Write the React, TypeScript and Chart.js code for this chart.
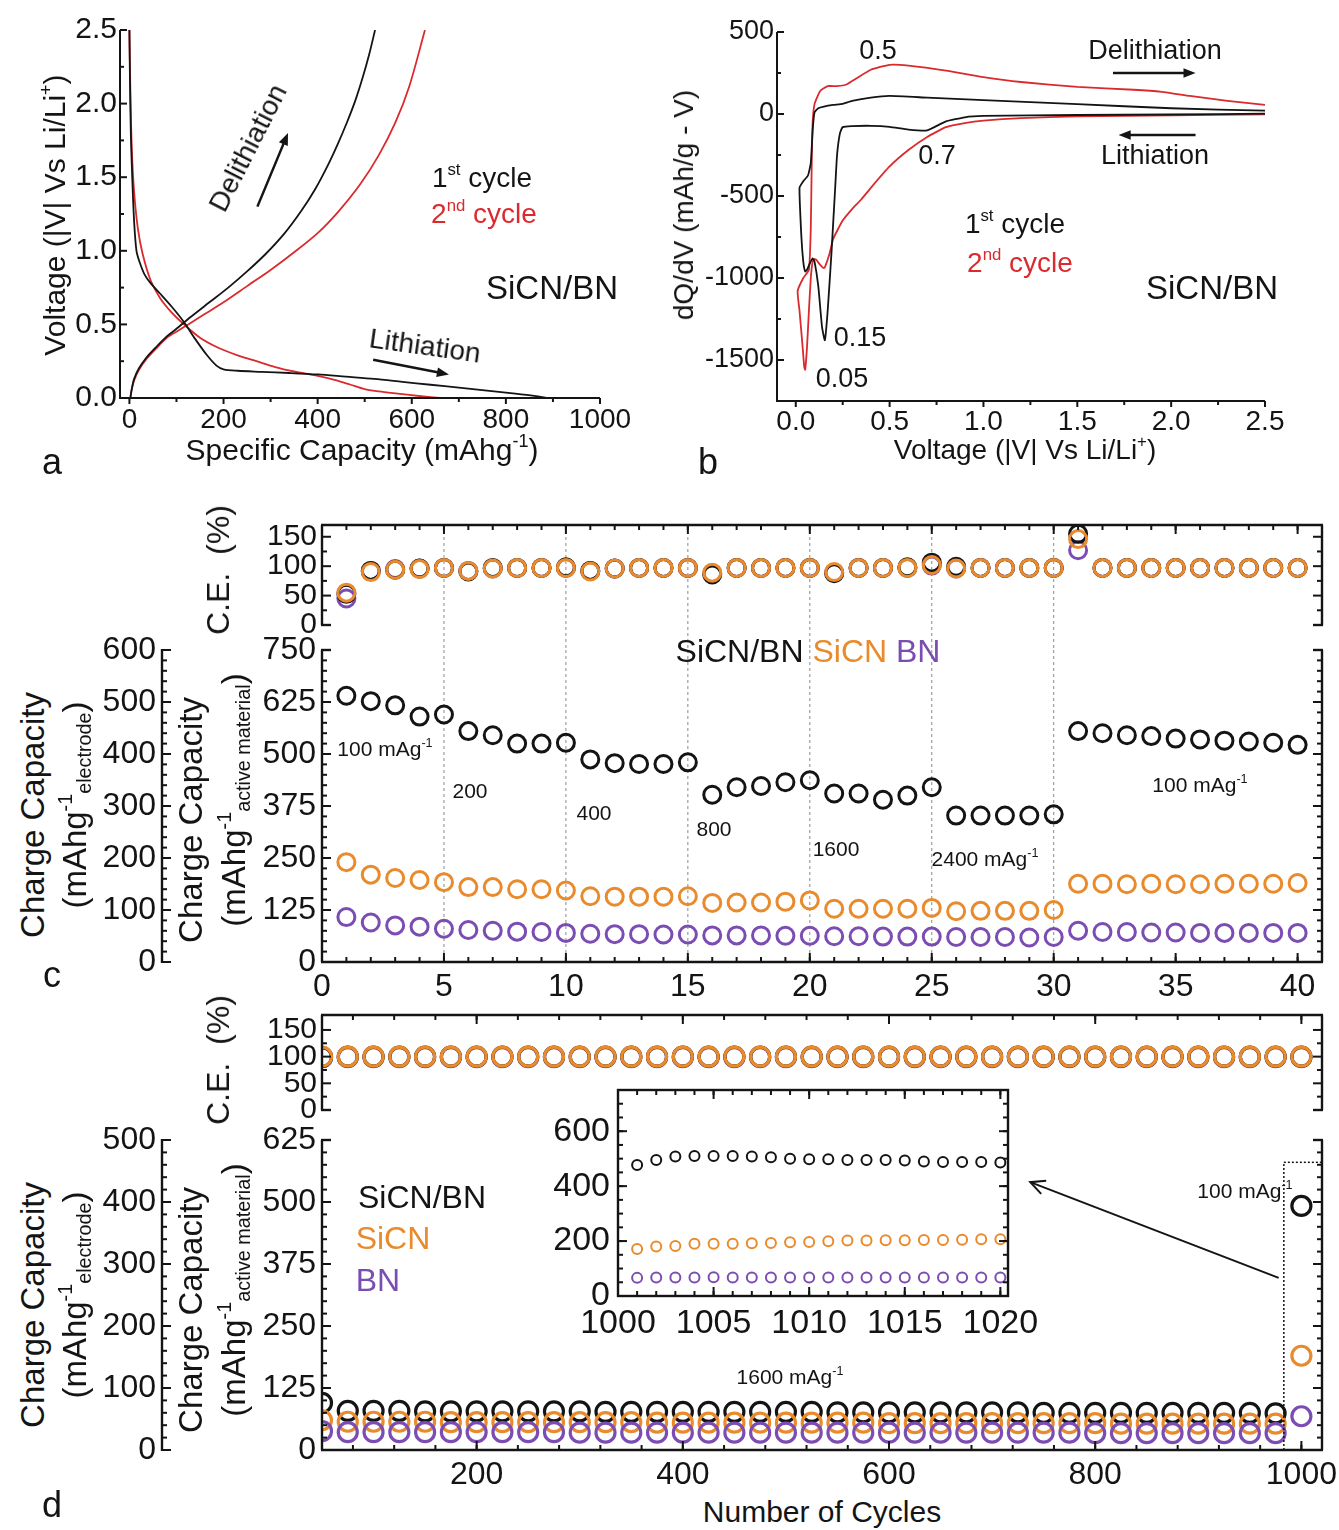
import React, { useEffect, useRef } from 'react';
import { Chart, registerables } from 'chart.js';

Chart.register(...registerables);

const FONT = '"Liberation Sans", Arial, Helvetica, sans-serif';
const INK = '#141414';
const RED = '#DA2A2E';
const ORANGE = '#E98B2C';
const PURPLE = '#7B4DB3';

// ---------------- Panel a: voltage profiles ----------------
const aLith1Cap = [0, 1, 3, 6, 10, 15, 22, 32, 45, 65, 90, 115, 140, 165, 185, 200, 230, 280, 340, 400, 460, 520, 580, 640, 700, 760, 820, 860, 890];
const aLith1V = [2.5, 2.2, 1.8, 1.5, 1.2, 1.0, 0.92, 0.84, 0.78, 0.71, 0.62, 0.52, 0.4, 0.29, 0.22, 0.195, 0.185, 0.178, 0.17, 0.16, 0.145, 0.13, 0.11, 0.09, 0.07, 0.05, 0.03, 0.015, 0.0];
const aDel1Cap = [2, 5, 10, 20, 35, 55, 80, 100, 130, 170, 210, 250, 290, 330, 365, 395, 420, 442, 462, 480, 496, 510, 522];
const aDel1V = [0.0, 0.06, 0.13, 0.2, 0.27, 0.34, 0.42, 0.47, 0.55, 0.65, 0.75, 0.86, 0.98, 1.12, 1.27, 1.42, 1.57, 1.72, 1.87, 2.02, 2.18, 2.34, 2.5];
const aLith2Cap = [0, 2, 5, 10, 18, 28, 45, 65, 90, 116, 150, 190, 230, 270, 310, 350, 400, 440, 470, 500, 530, 570, 620, 660];
const aLith2V = [2.5, 2.1, 1.7, 1.4, 1.15, 0.98, 0.8, 0.68, 0.58, 0.5, 0.41, 0.34, 0.29, 0.25, 0.21, 0.18, 0.15, 0.12, 0.09, 0.06, 0.045, 0.03, 0.012, 0.0];
const aDel2Cap = [2, 5, 10, 20, 35, 55, 80, 105, 125, 160, 200, 250, 300, 350, 400, 445, 490, 530, 565, 595, 628];
const aDel2V = [0.0, 0.06, 0.12, 0.19, 0.26, 0.33, 0.41, 0.46, 0.5, 0.57, 0.65, 0.76, 0.87, 0.99, 1.12, 1.27, 1.45, 1.65, 1.87, 2.12, 2.5];
const aXTicks = [0, 200, 400, 600, 800, 1000];
const aYTicks = [0, 0.5, 1, 1.5, 2, 2.5];

// ---------------- Panel b: dQ/dV ----------------
const bV1 = [2.5, 2.0, 1.5, 1.0, 0.9, 0.8, 0.7, 0.6, 0.5, 0.4, 0.3, 0.25, 0.235, 0.22, 0.21, 0.19, 0.17, 0.155, 0.14, 0.12, 0.1, 0.09, 0.075, 0.06, 0.05, 0.04, 0.03, 0.02, 0.04, 0.065, 0.08, 0.09, 0.1, 0.12, 0.15, 0.2, 0.25, 0.3, 0.4, 0.5, 0.7, 1.0, 1.5, 2.0, 2.5];
const bQ1 = [2, -3, -6, -12, -20, -45, -100, -95, -78, -72, -74, -80, -120, -250, -450, -850, -1200, -1380, -1300, -1050, -900, -880, -910, -950, -960, -900, -750, -450, -410, -375, -300, -100, 10, 35, 45, 55, 62, 80, 100, 110, 100, 85, 60, 35, 20];
const bV2 = [2.5, 2.0, 1.5, 1.2, 1.0, 0.9, 0.8, 0.7, 0.6, 0.5, 0.4, 0.35, 0.3, 0.25, 0.2, 0.18, 0.16, 0.15, 0.13, 0.11, 0.1, 0.09, 0.08, 0.07, 0.06, 0.05, 0.045, 0.035, 0.02, 0.01, 0.04, 0.07, 0.08, 0.085, 0.09, 0.1, 0.13, 0.17, 0.22, 0.27, 0.32, 0.4, 0.5, 0.6, 0.8, 1.0, 1.2, 1.5, 1.8, 1.95, 2.1, 2.3, 2.5];
const bQ2 = [-2, -8, -15, -25, -40, -55, -80, -140, -220, -320, -450, -520, -580, -650, -760, -850, -920, -940, -920, -890, -885, -900, -1000, -1200, -1420, -1560, -1540, -1400, -1200, -1080, -1000, -950, -700, -300, -50, 60, 140, 170, 170, 180, 215, 270, 300, 295, 265, 225, 195, 165, 148, 135, 110, 80, 55];
const bXTicks = [0, 0.5, 1, 1.5, 2, 2.5];
const bYTicks = [-1500, -1000, -500, 0, 500];

// ---------------- Panel c: rate capability ----------------
const cCycles = [1, 2, 3, 4, 5, 6, 7, 8, 9, 10, 11, 12, 13, 14, 15, 16, 17, 18, 19, 20, 21, 22, 23, 24, 25, 26, 27, 28, 29, 30, 31, 32, 33, 34, 35, 36, 37, 38, 39, 40];
const cCapSiCNBN = [640, 627, 617, 590, 595, 555, 545, 525, 525, 527, 487, 478, 476, 476, 480, 402, 420, 423, 432, 437, 405, 405, 390, 400, 420, 352, 352, 352, 352, 355, 555, 550, 545, 543, 537, 535, 532, 530, 527, 522];
const cCapSiCN = [240, 210, 202, 197, 192, 180, 180, 175, 175, 172, 158, 157, 157, 157, 158, 142, 143, 143, 145, 148, 128, 128, 128, 128, 130, 122, 123, 123, 123, 125, 188, 188, 187, 188, 187, 187, 188, 188, 188, 190];
const cCapBN = [108, 95, 88, 85, 80, 77, 75, 73, 72, 70, 68, 67, 67, 66, 66, 64, 64, 64, 63, 63, 62, 62, 61, 61, 61, 60, 60, 60, 59, 60, 75, 72, 72, 71, 71, 70, 70, 70, 70, 70];
const cCESiCNBN = [53, 92, 94, 96, 97, 91, 97, 97, 97, 98, 92, 96, 97, 97, 97, 86, 97, 97, 97, 97, 88, 97, 97, 98, 106, 99, 97, 97, 97, 97, 155, 97, 97, 97, 97, 97, 97, 97, 97, 97];
const cCESiCN = [55, 90, 94, 95, 97, 92, 96, 97, 97, 97, 91, 96, 97, 97, 97, 89, 97, 97, 97, 97, 90, 97, 97, 97, 102, 96, 97, 97, 97, 97, 146, 97, 97, 97, 97, 97, 97, 97, 97, 97];
const cCEBN = [45, 92, 95, 96, 97, 92, 96, 97, 97, 97, 92, 96, 97, 97, 97, 88, 97, 97, 97, 97, 89, 97, 97, 97, 101, 96, 97, 97, 97, 97, 127, 97, 97, 97, 97, 97, 97, 97, 97, 97];
const cRateLines = [5, 10, 15, 20, 25, 30];
const cXTicks = [0, 5, 10, 15, 20, 25, 30, 35, 40];
const cCETicks = [0, 50, 100, 150];
const cCapTicks = [0, 125, 250, 375, 500, 625, 750];
const cElecTicks = [0, 100, 200, 300, 400, 500, 600];

// ---------------- Panel d: long cycling ----------------
const dCycles = [50, 75, 100, 125, 150, 175, 200, 225, 250, 275, 300, 325, 350, 375, 400, 425, 450, 475, 500, 525, 550, 575, 600, 625, 650, 675, 700, 725, 750, 775, 800, 825, 850, 875, 900, 925, 950, 975, 1000];
const dCapSiCNBN = [95, 79, 79, 79, 78, 78, 78, 78, 78, 78, 78, 77, 77, 77, 77, 77, 77, 77, 77, 77, 76, 76, 76, 76, 76, 76, 76, 76, 75, 75, 75, 75, 75, 75, 75, 75, 75, 74, 492];
const dCapSiCN = [60, 57, 57, 57, 57, 56, 56, 56, 56, 56, 56, 56, 56, 55, 55, 55, 55, 55, 55, 55, 55, 55, 54, 54, 54, 54, 54, 54, 54, 54, 54, 53, 53, 53, 53, 53, 53, 53, 190];
const dCapBN = [38, 36, 36, 36, 36, 36, 36, 36, 36, 36, 35, 35, 35, 35, 35, 35, 35, 35, 35, 35, 35, 35, 35, 35, 35, 35, 35, 35, 35, 35, 34, 34, 34, 34, 34, 34, 34, 34, 68];
const dCESiCNBN = [99, 100, 100, 100, 100, 100, 100, 100, 100, 100, 100, 100, 100, 100, 100, 100, 100, 100, 100, 100, 100, 100, 100, 100, 100, 100, 100, 100, 100, 100, 100, 100, 100, 100, 100, 100, 100, 100, 100];
const dCESiCN = [100, 100, 100, 100, 100, 100, 100, 100, 100, 100, 100, 100, 100, 100, 100, 100, 100, 100, 100, 100, 100, 100, 100, 100, 100, 100, 100, 100, 100, 100, 100, 100, 100, 100, 100, 100, 100, 100, 100];
const dCEBN = [99, 99, 99, 99, 99, 99, 99, 99, 99, 99, 99, 99, 99, 99, 99, 99, 99, 99, 99, 99, 99, 99, 99, 99, 99, 99, 99, 99, 99, 99, 99, 99, 99, 99, 99, 99, 99, 99, 99];
const dXTicks = [200, 400, 600, 800, 1000];
const dCETicks = [0, 50, 100, 150];
const dCapTicks = [0, 125, 250, 375, 500, 625];
const dElecTicks = [0, 100, 200, 300, 400, 500];

// ---------------- Inset ----------------
const inCycles = [1001, 1002, 1003, 1004, 1005, 1006, 1007, 1008, 1009, 1010, 1011, 1012, 1013, 1014, 1015, 1016, 1017, 1018, 1019, 1020];
const inSiCNBN = [477, 495, 508, 510, 510, 510, 508, 505, 500, 498, 498, 495, 495, 495, 493, 490, 488, 488, 488, 486];
const inSiCN = [171, 180, 182, 190, 190, 190, 192, 193, 196, 197, 199, 202, 202, 203, 203, 204, 204, 205, 207, 207];
const inBN = [66, 67, 67, 67, 68, 67, 67, 67, 67, 67, 67, 67, 67, 67, 67, 67, 67, 67, 67, 67];
const inXTicks = [1000, 1005, 1010, 1015, 1020];
const inYTicks = [0, 200, 400, 600];

// ---------------- helpers ----------------
type Pad = { l: number; t: number; r: number; b: number };
type Area = { left: number; top: number; right: number; bottom: number };

const seq = (a: number, b: number, st: number) => {
  const r: number[] = [];
  for (let v = a; v <= b + 1e-9; v += st) r.push(+v.toFixed(6));
  return r;
};
const zip = (xs: number[], ys: number[]) => xs.map((x, i) => ({ x, y: ys[i] }));

function curve(xs: number[], ys: number[], color: string, tension: number) {
  return { data: zip(xs, ys), showLine: true, borderColor: color, borderWidth: 1.8, pointRadius: 0, tension, fill: false };
}
function rings(xs: number[], ys: number[], color: string, r: number, bw: number) {
  return {
    data: zip(xs, ys), showLine: false, pointStyle: 'circle', pointRadius: r, pointBorderWidth: bw,
    pointBorderColor: color, pointBackgroundColor: 'rgba(0,0,0,0)', borderColor: color, backgroundColor: 'rgba(0,0,0,0)',
    yAxisID: 'y',
  };
}

function axis(o: { pos: string; min: number; max: number; labels?: number[]; fmt?: (v: number) => string; size: number; font?: number; pad?: number; weight?: number }) {
  const horiz = o.pos === 'bottom' || o.pos === 'top';
  const has = !!(o.labels && o.labels.length);
  return {
    type: 'linear', position: o.pos, min: o.min, max: o.max, bounds: 'data', weight: o.weight ?? 0,
    grid: { display: false, drawTicks: false },
    border: { display: false },
    ticks: {
      display: has, autoSkip: false, maxRotation: 0, minRotation: 0, padding: o.pad ?? 6, color: INK,
      font: { family: FONT, size: o.font ?? 28 },
      callback: (v: any) => (o.fmt ? o.fmt(Number(v)) : String(v)),
    },
    afterBuildTicks: (s: any) => { s.ticks = (has ? o.labels! : [o.min, o.max]).map((v) => ({ value: v })); },
    afterFit: (s: any) => {
      if (horiz) s.height = o.size; else s.width = o.size;
      s.paddingLeft = 0; s.paddingRight = 0; s.paddingTop = 0; s.paddingBottom = 0;
    },
  };
}

function baseOptions(pad: Pad, scales: any) {
  return {
    responsive: false, maintainAspectRatio: false, animation: false, devicePixelRatio: 1, events: [],
    layout: { padding: { left: 0, top: pad.t, right: pad.r, bottom: 0 } },
    plugins: { legend: { display: false }, tooltip: { enabled: false }, title: { display: false } },
    scales,
  };
}

function L(ctx: any, x1: number, y1: number, x2: number, y2: number, lw = 2, dash: number[] = [], color = INK) {
  ctx.save(); ctx.strokeStyle = color; ctx.lineWidth = lw; ctx.setLineDash(dash); ctx.lineCap = 'butt';
  ctx.beginPath(); ctx.moveTo(x1, y1); ctx.lineTo(x2, y2); ctx.stroke(); ctx.restore();
}
function tk(c: any, id: string, vals: number[], len: number, side: string, inward: boolean, at?: number, lw = 2) {
  const s = c.scales[id]; const a = c.chartArea; const ctx = c.ctx;
  for (const v of vals) {
    if (v < s.min - 1e-9 || v > s.max + 1e-9) continue;
    const p = s.getPixelForValue(v);
    if (side === 'bottom') L(ctx, p, a.bottom, p, a.bottom + (inward ? -len : len), lw);
    else if (side === 'top') L(ctx, p, a.top, p, a.top + (inward ? len : -len), lw);
    else if (side === 'left') { const x0 = at ?? a.left; L(ctx, x0, p, x0 + (inward ? len : -len), p, lw); }
    else { const x0 = at ?? a.right; L(ctx, x0, p, x0 + (inward ? -len : len), p, lw); }
  }
}
function arrow(ctx: any, x1: number, y1: number, x2: number, y2: number, lw = 2, head = 12, open = false) {
  const ang = Math.atan2(y2 - y1, x2 - x1);
  const bx = x2 - (open ? 0 : head * 0.8) * Math.cos(ang), by = y2 - (open ? 0 : head * 0.8) * Math.sin(ang);
  L(ctx, x1, y1, bx, by, lw);
  ctx.save(); ctx.fillStyle = INK; ctx.strokeStyle = INK; ctx.lineWidth = lw; ctx.beginPath();
  if (open) {
    ctx.moveTo(x2 - head * Math.cos(ang - 0.45), y2 - head * Math.sin(ang - 0.45));
    ctx.lineTo(x2, y2);
    ctx.lineTo(x2 - head * Math.cos(ang + 0.45), y2 - head * Math.sin(ang + 0.45));
    ctx.stroke();
  } else {
    ctx.moveTo(x2, y2);
    ctx.lineTo(x2 - head * Math.cos(ang - 0.38), y2 - head * Math.sin(ang - 0.38));
    ctx.lineTo(x2 - head * Math.cos(ang + 0.38), y2 - head * Math.sin(ang + 0.38));
    ctx.closePath(); ctx.fill();
  }
  ctx.restore();
}
const px = (c: any, id: string, v: number) => c.scales[id].getPixelForValue(v);

// ---------------- chart configs ----------------
function cfgA(pad: Pad) {
  return {
    type: 'scatter',
    data: { datasets: [curve(aDel1Cap, aDel1V, INK, 0.3), curve(aLith1Cap, aLith1V, INK, 0.3), curve(aDel2Cap, aDel2V, RED, 0.3), curve(aLith2Cap, aLith2V, RED, 0.3)] },
    options: baseOptions(pad, {
      x: axis({ pos: 'bottom', min: -20, max: 1000, labels: aXTicks, size: pad.b, font: 28, pad: 5 }),
      y: axis({ pos: 'left', min: 0, max: 2.5, labels: aYTicks, fmt: (v) => v.toFixed(1), size: pad.l, font: 30, pad: 3 }),
    }),
    plugins: [{
      id: 'decorA',
      afterDatasetsDraw(c: any) {
        const a = c.chartArea, ctx = c.ctx;
        L(ctx, a.left, a.top, a.left, a.bottom + 1, 2);
        L(ctx, a.left - 1, a.bottom, a.right, a.bottom, 2);
        tk(c, 'y', aYTicks, 7, 'left', true); tk(c, 'y', seq(0.25, 2.25, 0.5), 4, 'left', true);
        tk(c, 'x', aXTicks, 6, 'bottom', false); tk(c, 'x', seq(100, 900, 200), 4, 'bottom', false);
        arrow(ctx, px(c, 'x', 272), px(c, 'y', 1.3), px(c, 'x', 337), px(c, 'y', 1.8), 2.5, 13);
        arrow(ctx, px(c, 'x', 518), px(c, 'y', 0.26), px(c, 'x', 679), px(c, 'y', 0.16), 2.5, 13);
      },
    }],
  };
}

function cfgB(pad: Pad) {
  return {
    type: 'scatter',
    data: { datasets: [curve(bV1, bQ1, INK, 0.15), curve(bV2, bQ2, RED, 0.15)] },
    options: baseOptions(pad, {
      x: axis({ pos: 'bottom', min: -0.1, max: 2.5, labels: bXTicks, fmt: (v) => v.toFixed(1), size: pad.b, font: 28, pad: 4 }),
      y: axis({ pos: 'left', min: -1750, max: 500, labels: bYTicks, size: pad.l, font: 27, pad: 3 }),
    }),
    plugins: [{
      id: 'decorB',
      afterDatasetsDraw(c: any) {
        const a = c.chartArea, ctx = c.ctx;
        L(ctx, a.left, a.top, a.left, a.bottom + 1, 2);
        L(ctx, a.left - 1, a.bottom, a.right, a.bottom, 2);
        tk(c, 'y', bYTicks, 7, 'left', true); tk(c, 'y', [-1250, -750, -250, 250], 4, 'left', true);
        tk(c, 'x', bXTicks, 6, 'bottom', false); tk(c, 'x', seq(0.25, 2.25, 0.5), 4, 'bottom', false);
        arrow(ctx, px(c, 'x', 1.69), px(c, 'y', 250), px(c, 'x', 2.13), px(c, 'y', 250), 2.5, 13);
        arrow(ctx, px(c, 'x', 2.13), px(c, 'y', -128), px(c, 'x', 1.72), px(c, 'y', -128), 2.5, 13);
      },
    }],
  };
}

function ceFrame(c: any, yTicks: number[], yMinor: number[], xTicks: number[], xMinor: number[]) {
  const a = c.chartArea, ctx = c.ctx;
  L(ctx, a.left - 1, a.top, a.right + 1, a.top, 2.4);
  L(ctx, a.left, a.top, a.left, a.bottom, 2.4);
  L(ctx, a.right, a.top, a.right, a.bottom, 2.4);
  L(ctx, a.left - 1, a.bottom, a.left + 9, a.bottom, 2.4);
  L(ctx, a.right - 9, a.bottom, a.right + 1, a.bottom, 2.4);
  tk(c, 'y', yTicks, 9, 'left', true); tk(c, 'y', yMinor, 5, 'left', true);
  tk(c, 'y', yTicks, 9, 'right', true); tk(c, 'y', yMinor, 5, 'right', true);
  tk(c, 'x', xTicks, 9, 'top', true); tk(c, 'x', xMinor, 5, 'top', true);
}
function capFrame(c: any, yTicks: number[], yMinor: number[], xTicks: number[], xMinor: number[], eTicks: number[], eMinor: number[]) {
  const a = c.chartArea, ctx = c.ctx;
  L(ctx, a.left - 1, a.bottom, a.right + 1, a.bottom, 2.4);
  L(ctx, a.left, a.top, a.left, a.bottom, 2.4);
  L(ctx, a.right, a.top, a.right, a.bottom, 2.4);
  L(ctx, a.left - 1, a.top, a.left + 9, a.top, 2.4);
  L(ctx, a.right - 9, a.top, a.right + 1, a.top, 2.4);
  tk(c, 'y', yTicks, 9, 'left', true); tk(c, 'y', yMinor, 5, 'left', true);
  tk(c, 'y', yTicks, 9, 'right', true); tk(c, 'y', yMinor, 5, 'right', true);
  tk(c, 'x', xTicks, 9, 'bottom', true); tk(c, 'x', xMinor, 5, 'bottom', true);
  const e = c.scales.y2; const ex = e.right;
  L(ctx, ex, a.top - 1, ex, a.bottom + 1, 2.4);
  tk(c, 'y2', eTicks, 9, 'left', true, ex); tk(c, 'y2', eMinor, 5, 'left', true, ex);
}

function cfgCCE(pad: Pad) {
  return {
    type: 'scatter',
    data: { datasets: [rings(cCycles, cCESiCN, ORANGE, 8.5, 3), rings(cCycles, cCESiCNBN, INK, 8.5, 3), rings(cCycles, cCEBN, PURPLE, 8.5, 3)] },
    options: baseOptions(pad, {
      x: axis({ pos: 'bottom', min: 0, max: 41, size: pad.b }),
      y: axis({ pos: 'left', min: 0, max: 170, labels: cCETicks, size: pad.l, font: 30, pad: 5 }),
    }),
    plugins: [{
      id: 'decorCCE',
      beforeDatasetsDraw(c: any) {
        const a = c.chartArea;
        for (const v of cRateLines) { const p = px(c, 'x', v); L(c.ctx, p, a.top, p, c.height, 1, [3, 3], '#8a8a8a'); }
      },
      afterDatasetsDraw(c: any) { ceFrame(c, cCETicks, [25, 75, 125], cXTicks, seq(1, 40, 1)); },
    }],
  };
}

function cfgCCap(pad: Pad) {
  return {
    type: 'scatter',
    data: { datasets: [rings(cCycles, cCapBN, PURPLE, 8.5, 3), rings(cCycles, cCapSiCN, ORANGE, 8.5, 3), rings(cCycles, cCapSiCNBN, INK, 8.5, 3)] },
    options: baseOptions(pad, {
      x: axis({ pos: 'bottom', min: 0, max: 41, labels: cXTicks, size: pad.b, font: 32, pad: 6 }),
      y: axis({ pos: 'left', min: 0, max: 750, labels: cCapTicks, size: 160, font: 32, pad: 6, weight: 0 }),
      y2: axis({ pos: 'left', min: 0, max: 600, labels: cElecTicks, size: pad.l - 160, font: 32, pad: 6, weight: 1 }),
    }),
    plugins: [{
      id: 'decorCCap',
      beforeDatasetsDraw(c: any) {
        const a = c.chartArea;
        for (const v of cRateLines) { const p = px(c, 'x', v); L(c.ctx, p, a.top, p, a.bottom, 1, [3, 3], '#8a8a8a'); }
      },
      afterDatasetsDraw(c: any) { capFrame(c, cCapTicks, seq(25, 725, 25), cXTicks, seq(1, 40, 1), cElecTicks, seq(20, 580, 20)); },
    }],
  };
}

function cfgDCE(pad: Pad) {
  return {
    type: 'scatter',
    data: { datasets: [rings(dCycles, dCESiCN, ORANGE, 9.5, 3.2), rings(dCycles, dCESiCNBN, INK, 9.5, 3.2), rings(dCycles, dCEBN, PURPLE, 9.5, 3.2)] },
    options: baseOptions(pad, {
      x: axis({ pos: 'bottom', min: 50, max: 1020, size: pad.b }),
      y: axis({ pos: 'left', min: 0, max: 178, labels: dCETicks, size: pad.l, font: 30, pad: 5 }),
    }),
    plugins: [{
      id: 'decorDCE',
      afterDatasetsDraw(c: any) { ceFrame(c, dCETicks, [25, 75, 125], dXTicks, seq(80, 1000, 40)); },
    }],
  };
}

function cfgDCap(pad: Pad) {
  return {
    type: 'scatter',
    data: { datasets: [rings(dCycles, dCapBN, PURPLE, 9.5, 3.2), rings(dCycles, dCapSiCN, ORANGE, 9.5, 3.2), rings(dCycles, dCapSiCNBN, INK, 9.5, 3.2)] },
    options: baseOptions(pad, {
      x: axis({ pos: 'bottom', min: 50, max: 1020, labels: dXTicks, size: pad.b, font: 32, pad: 6 }),
      y: axis({ pos: 'left', min: 0, max: 625, labels: dCapTicks, size: 160, font: 32, pad: 6, weight: 0 }),
      y2: axis({ pos: 'left', min: 0, max: 500, labels: dElecTicks, size: pad.l - 160, font: 32, pad: 6, weight: 1 }),
    }),
    plugins: [{
      id: 'decorDCap',
      afterDatasetsDraw(c: any) {
        const a = c.chartArea, ctx = c.ctx;
        capFrame(c, dCapTicks, seq(25, 600, 25), dXTicks, seq(80, 1000, 40), dElecTicks, seq(20, 480, 20));
        const bx = px(c, 'x', 983), by = px(c, 'y', 580);
        L(ctx, bx, a.bottom, bx, by, 1.5, [2, 2]);
        L(ctx, bx, by, a.right, by, 1.5, [2, 2]);
        arrow(ctx, px(c, 'x', 978), px(c, 'y', 347), px(c, 'x', 737), px(c, 'y', 540), 2, 16, true);
      },
    }],
  };
}

function cfgInset(pad: Pad) {
  return {
    type: 'scatter',
    data: { datasets: [rings(inCycles, inBN, PURPLE, 5, 2), rings(inCycles, inSiCN, ORANGE, 5, 2), rings(inCycles, inSiCNBN, INK, 5, 2)] },
    options: baseOptions(pad, {
      x: axis({ pos: 'bottom', min: 1000, max: 1020.4, labels: inXTicks, size: pad.b, font: 34, pad: 7 }),
      y: axis({ pos: 'left', min: 0, max: 750, labels: inYTicks, size: pad.l, font: 34, pad: 8 }),
    }),
    plugins: [{
      id: 'decorIn',
      beforeDatasetsDraw(c: any) {
        const a = c.chartArea; c.ctx.save(); c.ctx.fillStyle = '#ffffff';
        c.ctx.fillRect(a.left, a.top, a.right - a.left, a.bottom - a.top); c.ctx.restore();
      },
      afterDatasetsDraw(c: any) {
        const a = c.chartArea, ctx = c.ctx;
        ctx.save(); ctx.strokeStyle = INK; ctx.lineWidth = 2.4; ctx.strokeRect(a.left, a.top, a.right - a.left, a.bottom - a.top); ctx.restore();
        const xm = seq(1001, 1020, 1), ym = seq(50, 750, 50);
        tk(c, 'x', inXTicks, 9, 'bottom', true); tk(c, 'x', xm, 5, 'bottom', true);
        tk(c, 'x', inXTicks, 9, 'top', true); tk(c, 'x', xm, 5, 'top', true);
        tk(c, 'y', inYTicks, 9, 'left', true); tk(c, 'y', ym, 5, 'left', true);
        tk(c, 'y', inYTicks, 9, 'right', true); tk(c, 'y', ym, 5, 'right', true);
      },
    }],
  };
}

// ---------------- React pieces ----------------
function Plot({ area, pad, make }: { area: Area; pad: Pad; make: (p: Pad) => any }) {
  const ref = useRef<HTMLCanvasElement>(null);
  const w = area.right - area.left + pad.l + pad.r;
  const h = area.bottom - area.top + pad.t + pad.b;
  useEffect(() => {
    const chart = new Chart(ref.current as HTMLCanvasElement, make(pad));
    return () => chart.destroy();
  }, []);
  return <canvas ref={ref} width={w} height={h} style={{ position: 'absolute', left: area.left - pad.l, top: area.top - pad.t, width: w, height: h }} />;
}

function T({ x, y, s, c = INK, r = 0, children }: any) {
  return (
    <div style={{ position: 'absolute', left: x, top: y, transform: `translate(-50%, -50%) rotate(${r}deg)`, fontSize: s, color: c, whiteSpace: 'nowrap', lineHeight: 1, fontFamily: FONT }}>
      {children}
    </div>
  );
}
const Sup = ({ children }: any) => <span style={{ fontSize: '0.6em', verticalAlign: '0.7em', lineHeight: 0 }}>{children}</span>;
const Sub = ({ children }: any) => <span style={{ fontSize: '0.6em', verticalAlign: '-0.3em', lineHeight: 0 }}>{children}</span>;

export default function App() {
  return (
    <div style={{ position: 'absolute', left: 0, top: 0, width: 1339, height: 1530, background: '#ffffff', overflow: 'hidden', fontFamily: FONT }}>
      <Plot area={{ left: 120, top: 30, right: 600, bottom: 398 }} pad={{ l: 70, t: 16, r: 40, b: 44 }} make={cfgA} />
      <Plot area={{ left: 777, top: 32, right: 1265, bottom: 401 }} pad={{ l: 80, t: 16, r: 40, b: 44 }} make={cfgB} />
      <Plot area={{ left: 322, top: 525, right: 1322, bottom: 625 }} pad={{ l: 70, t: 14, r: 17, b: 25 }} make={cfgCCE} />
      <Plot area={{ left: 322, top: 650, right: 1322, bottom: 962 }} pad={{ l: 232, t: 20, r: 17, b: 44 }} make={cfgCCap} />
      <Plot area={{ left: 322, top: 1015, right: 1322, bottom: 1110 }} pad={{ l: 70, t: 14, r: 17, b: 30 }} make={cfgDCE} />
      <Plot area={{ left: 322, top: 1140, right: 1322, bottom: 1450 }} pad={{ l: 232, t: 20, r: 17, b: 44 }} make={cfgDCap} />
      <Plot area={{ left: 618, top: 1090, right: 1008, bottom: 1296 }} pad={{ l: 66, t: 10, r: 34, b: 48 }} make={cfgInset} />

      {/* panel a */}
      <T x={55} y={215} s={30} r={-90}>Voltage (|V| Vs Li/Li<Sup>+</Sup>)</T>
      <T x={362} y={450} s={30}>Specific Capacity (mAhg<Sup>-1</Sup>)</T>
      <T x={52} y={462} s={36}>a</T>
      <T x={248} y={148} s={28} r={-63}>Delithiation</T>
      <T x={425} y={346} s={28} r={8}>Lithiation</T>
      <T x={482} y={178} s={28}>1<Sup>st</Sup> cycle</T>
      <T x={484} y={214} s={28} c={RED}>2<Sup>nd</Sup> cycle</T>
      <T x={552} y={287} s={33}>SiCN/BN</T>

      {/* panel b */}
      <T x={684} y={205} s={28} r={-90}>dQ/dV (mAh/g - V)</T>
      <T x={1025} y={450} s={28}>Voltage (|V| Vs Li/Li<Sup>+</Sup>)</T>
      <T x={708} y={462} s={36}>b</T>
      <T x={878} y={50} s={27}>0.5</T>
      <T x={1155} y={50} s={27}>Delithiation</T>
      <T x={1155} y={155} s={27}>Lithiation</T>
      <T x={937} y={155} s={27}>0.7</T>
      <T x={860} y={337} s={27}>0.15</T>
      <T x={842} y={378} s={27}>0.05</T>
      <T x={1015} y={224} s={28}>1<Sup>st</Sup> cycle</T>
      <T x={1020} y={263} s={28} c={RED}>2<Sup>nd</Sup> cycle</T>
      <T x={1212} y={287} s={33}>SiCN/BN</T>

      {/* panel c */}
      <T x={218} y={570} s={32} r={-90}>C.E.&nbsp; (%)</T>
      <T x={32} y={815} s={33} r={-90}>Charge Capacity</T>
      <T x={74} y={805} s={33} r={-90}>(mAhg<Sup>-1</Sup><Sub>electrode</Sub>)</T>
      <T x={190} y={820} s={33} r={-90}>Charge Capacity</T>
      <T x={233} y={800} s={33} r={-90}>(mAhg<Sup>-1</Sup><Sub>active material</Sub>)</T>
      <T x={52} y={975} s={36}>c</T>
      <T x={808} y={651} s={32}>
        <span style={{ color: INK }}>SiCN/BN </span><span style={{ color: ORANGE }}>SiCN </span><span style={{ color: PURPLE }}>BN</span>
      </T>
      <T x={385} y={748} s={21}>100 mAg<Sup>-1</Sup></T>
      <T x={470} y={790} s={21}>200</T>
      <T x={594} y={812} s={21}>400</T>
      <T x={714} y={828} s={21}>800</T>
      <T x={836} y={848} s={21}>1600</T>
      <T x={985} y={858} s={21}>2400 mAg<Sup>-1</Sup></T>
      <T x={1200} y={784} s={21}>100 mAg<Sup>-1</Sup></T>

      {/* panel d */}
      <T x={218} y={1060} s={32} r={-90}>C.E.&nbsp; (%)</T>
      <T x={32} y={1305} s={33} r={-90}>Charge Capacity</T>
      <T x={74} y={1295} s={33} r={-90}>(mAhg<Sup>-1</Sup><Sub>electrode</Sub>)</T>
      <T x={190} y={1310} s={33} r={-90}>Charge Capacity</T>
      <T x={233} y={1290} s={33} r={-90}>(mAhg<Sup>-1</Sup><Sub>active material</Sub>)</T>
      <T x={52} y={1505} s={36}>d</T>
      <T x={422} y={1197} s={32}>SiCN/BN</T>
      <T x={393} y={1238} s={32} c={ORANGE}>SiCN</T>
      <T x={378} y={1280} s={32} c={PURPLE}>BN</T>
      <T x={1245} y={1190} s={21}>100 mAg<Sup>-1</Sup></T>
      <T x={790} y={1376} s={21}>1600 mAg<Sup>-1</Sup></T>
      <T x={822} y={1512} s={30}>Number of Cycles</T>
    </div>
  );
}
